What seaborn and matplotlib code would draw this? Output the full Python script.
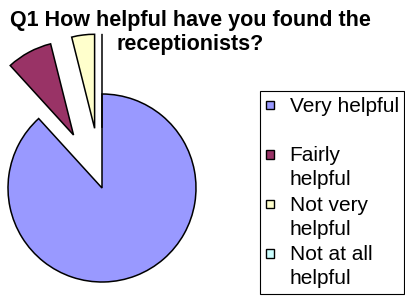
import matplotlib
matplotlib.use("Agg")
import matplotlib.pyplot as plt
import seaborn as sns
from matplotlib.patches import Rectangle
from matplotlib.legend_handler import HandlerPatch

sns.set_style("white")
plt.rcParams['font.family'] = ['Liberation Sans', 'DejaVu Sans']
plt.rcParams['text.color'] = 'black'

# Data
categories = ["Very helpful", "Fairly helpful", "Not very helpful", "Not at all helpful"]
legend_labels = ["Very helpful\n", "Fairly\nhelpful", "Not very\nhelpful", "Not at all\nhelpful"]
counts = [45, 4, 2, 0]
colors = ["#9999FF", "#993366", "#FFFFCC", "#CCFFFF"]
explode = [0, 0.64, 0.64, 0.64]
title = "Q1 How helpful have you found the\nreceptionists?"

W, H = 406, 297
fig = plt.figure(figsize=(W / 100, H / 100), dpi=100)
fig.patch.set_facecolor("white")

# pie axes: centre at (102, 188) px from top-left, radius 94 px
cx, cy, r = 102, 188, 94
ax_w = 232
ax = fig.add_axes([0, 0, ax_w / W, 1])
wedges, _ = ax.pie(counts, colors=sns.color_palette(colors), explode=explode,
                   startangle=90, counterclock=False, radius=1,
                   wedgeprops=dict(edgecolor="black", linewidth=1.1))
ax.set_xlim(-cx / r, (ax_w - cx) / r)
ax.set_ylim(-(H - cy) / r, cy / r)
ax.set_aspect("auto")
ax.axis("off")

fig.text(190 / W, 1 - 10 / H, title, ha="center", va="top", fontsize=15.5,
         fontweight="bold", linespacing=1.18, color="black")


def square(legend, orig_handle, xdescent, ydescent, width, height, fontsize):
    s = 6.3
    yc = 15.0  # centre of marker (points above the handle baseline) -> first text line
    return Rectangle((-xdescent, yc - s / 2), s, s)


handles = [Rectangle((0, 0), 1, 1, facecolor=c, edgecolor="black", linewidth=1.0)
           for c in colors]
leg = fig.legend(handles, legend_labels, loc="upper left",
                 bbox_to_anchor=(260 / W, 1 - 91 / H), bbox_transform=fig.transFigure,
                 fontsize=15, frameon=True, fancybox=False, shadow=False,
                 borderaxespad=0, borderpad=0.27, labelspacing=0.29,
                 handlelength=0.7, handletextpad=0.45, handleheight=0.7,
                 handler_map={Rectangle: HandlerPatch(patch_func=square)})
for t in leg.get_texts():
    t.set_linespacing(1.36)
    t.set_color("black")
fr = leg.get_frame()
fr.set_edgecolor("black")
fr.set_linewidth(0.8)
fr.set_alpha(1)

fig.savefig("out.png", dpi=100, facecolor="white")
